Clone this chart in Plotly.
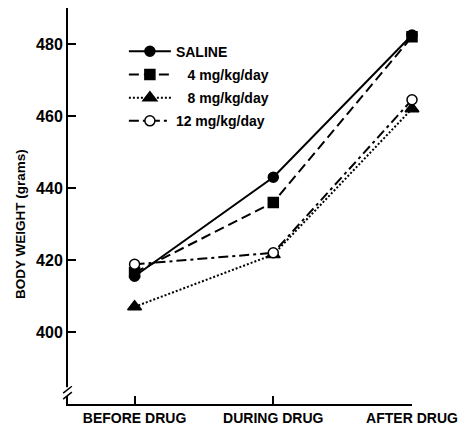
import plotly.graph_objects as go

categories = ["BEFORE DRUG", "DURING DRUG", "AFTER DRUG"]
saline = [415.5, 443, 482.5]
mg4 = [416.5, 436, 482]
mg8 = [407, 421.5, 462]
mg12 = [418.8, 422, 464.5]

W, H = 466, 434
L, R, T, B = 68, 41, 8, 25
FONT = "Liberation Sans, Arial, sans-serif"

def px_x(x):
    return (x - L) / (W - L - R)

def px_y(y):
    return (H - B - y) / (H - T - B)

series = [
    ("SALINE", saline, "circle", "solid", "black"),
    ("\u2007 4 mg/kg/day", mg4, "square", "10px,5px", "black"),
    ("\u2007 8 mg/kg/day", mg8, "triangle-up", "2px,2px", "black"),
    ("12 mg/kg/day", mg12, "circle", "10px,4px,3px,4px", "white"),
]

fig = go.Figure()
for i, (name, vals, sym, dash, fill) in enumerate(series):
    fig.add_trace(go.Scatter(
        x=list(range(len(categories))), y=vals, name=name,
        mode="lines+markers", legendgroup=f"g{i}",
        line=dict(color="black", width=2, dash=dash),
        marker=dict(symbol=sym, size=10 if sym != "triangle-up" else 12,
                    color=fill, line=dict(color="black", width=1.5)),
        cliponaxis=False,
    ))

fig.update_layout(
    width=W, height=H,
    margin=dict(l=L, r=R, t=T, b=B),
    paper_bgcolor="white", plot_bgcolor="white",
    font=dict(family=FONT, size=14, color="black", weight="bold"),
    showlegend=True,
    legend=dict(x=px_x(126), y=px_y(36), xanchor="left", yanchor="top",
                bgcolor="rgba(0,0,0,0)", borderwidth=0, itemwidth=42,
                tracegroupgap=2, font=dict(family=FONT, size=14, weight="bold")),
    xaxis=dict(
        range=[-0.48, 2.0], tickmode="array",
        tickvals=list(range(len(categories))), ticktext=categories,
        showgrid=False, zeroline=False, showline=True, linecolor="black",
        linewidth=2, ticks="inside", ticklen=8, tickwidth=2, tickcolor="black",
        tickfont=dict(family=FONT, size=14, weight="bold"),
        ticklabeloverflow="allow",
    ),
    yaxis=dict(
        range=[380, 490], tickvals=[400, 420, 440, 460, 480],
        showgrid=False, zeroline=False, showline=True, linecolor="black",
        linewidth=2, ticks="inside", ticklen=8, tickwidth=2, tickcolor="black",
        tickfont=dict(family=FONT, size=16, weight="bold"),
        ticklabeloverflow="allow",
    ),
)

fig.add_annotation(
    text="BODY WEIGHT (grams)", textangle=-90, showarrow=False,
    xref="paper", yref="paper", x=px_x(18), y=px_y(227),
    xanchor="center", yanchor="middle",
    font=dict(family=FONT, size=13.5, weight="bold"),
)

# axis break
fig.add_shape(type="rect", xref="paper", yref="paper",
              x0=px_x(63), x1=px_x(73), y0=px_y(401), y1=px_y(392),
              fillcolor="white", line=dict(width=0), layer="above")
for y0 in (396, 402):
    fig.add_shape(type="line", xref="paper", yref="paper",
                  x0=px_x(63), y0=px_y(y0 + 2), x1=px_x(72), y1=px_y(y0 - 5),
                  line=dict(color="black", width=1.5), layer="above")

fig.write_html("out.html", config={"displayModeBar": False},
               post_script="document.body.style.margin='0';document.body.style.padding='0';")
